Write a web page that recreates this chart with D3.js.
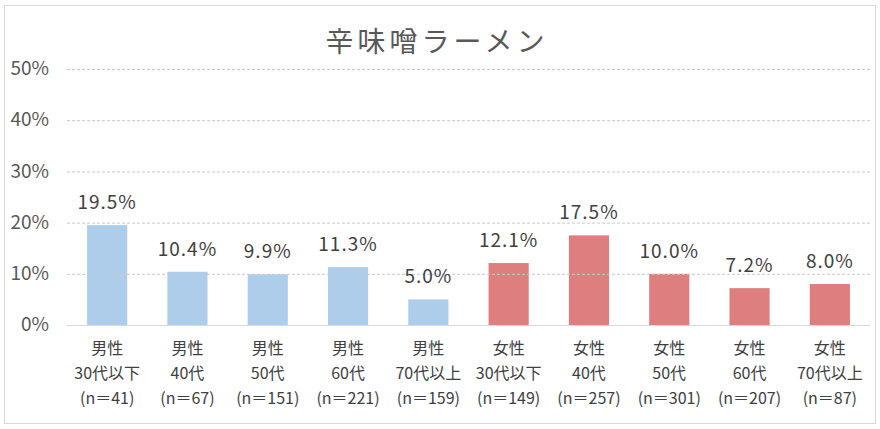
<!DOCTYPE html>
<html lang="ja">
  <head>
    <meta charset="UTF-8" />
    <title>辛味噌ラーメン</title>
    <script src="https://d3js.org/d3.v7.min.js"></script>
    <style>
      body {
        margin: 0;
        padding: 0;
        background: #fff;
        font-family: "Noto Sans CJK JP", sans-serif;
      }
      svg {
        display: block;
      }
      .tick text {
        fill: #595959;
      }
    </style>
  </head>
  <body>
    <svg width="880" height="429"></svg>
    <script>
      const width = 880,
        height = 429;
      const svg = d3.select("svg");

      const genders = ["男性", "男性", "男性", "男性", "男性", "女性", "女性", "女性", "女性", "女性"];
      const ages = ["30代以下", "40代", "50代", "60代", "70代以上", "30代以下", "40代", "50代", "60代", "70代以上"];
      const counts = [41, 67, 151, 221, 159, 149, 257, 301, 207, 87];
      const values = [19.5, 10.4, 9.9, 11.3, 5.0, 12.1, 17.5, 10.0, 7.2, 8.0];
      const yTicks = [0, 10, 20, 30, 40, 50];

      const keys = values.map((d, i) => i);
      const colors = { 男性: "#adcdea", 女性: "#de7e7e" };

      // outer frame
      svg
        .append("rect")
        .attr("x", 4.5)
        .attr("y", 5.5)
        .attr("width", 871)
        .attr("height", 418)
        .attr("fill", "none")
        .attr("stroke", "#d9d9d9");

      svg
        .append("text")
        .attr("x", 437)
        .attr("y", 52)
        .attr("text-anchor", "middle")
        .attr("font-size", 28)
        .attr("letter-spacing", 4)
        .attr("fill", "#595959")
        .text("辛味噌ラーメン");

      const x = d3
        .scaleBand()
        .domain(keys)
        .range([67, 870])
        .paddingInner(0.5)
        .paddingOuter(0.25);
      const y = d3.scaleLinear().domain([0, 50]).range([325, 69]);

      // bars
      svg
        .selectAll("rect.bar")
        .data(values)
        .join("rect")
        .attr("class", "bar")
        .attr("x", (d, i) => x(i))
        .attr("y", (d) => y(d))
        .attr("width", x.bandwidth())
        .attr("height", (d) => y(0) - y(d))
        .attr("fill", (d, i) => colors[genders[i]]);

      // gridlines
      svg
        .selectAll("line.grid")
        .data(yTicks.filter((t) => t > 0))
        .join("line")
        .attr("class", "grid")
        .attr("x1", 67)
        .attr("x2", 870)
        .attr("y1", (d) => y(d) + 0.5)
        .attr("y2", (d) => y(d) + 0.5)
        .attr("stroke", "#c8c8c8")
        .attr("stroke-dasharray", "3,2");

      svg
        .append("line")
        .attr("x1", 67)
        .attr("x2", 870)
        .attr("y1", y(0) + 0.5)
        .attr("y2", y(0) + 0.5)
        .attr("stroke", "#d9d9d9");

      // y axis labels
      const yAxis = d3
        .axisLeft(y)
        .tickValues(yTicks)
        .tickFormat((d) => d + "%")
        .tickSize(0)
        .tickPadding(0);
      const yg = svg.append("g").attr("transform", "translate(49,0)").call(yAxis);
      yg.select(".domain").remove();
      yg.selectAll("text")
        .attr("font-size", 19)
        .attr("dy", "0.3em")
        .attr("font-family", "'Noto Sans CJK JP', sans-serif");

      // value labels
      svg
        .selectAll("text.val")
        .data(values)
        .join("text")
        .attr("class", "val")
        .attr("x", (d, i) => x(i) + x.bandwidth() / 2)
        .attr("y", (d) => y(d) - 16)
        .attr("text-anchor", "middle")
        .attr("font-size", 19)
        .attr("letter-spacing", 1)
        .attr("fill", "#404040")
        .text((d) => d.toFixed(1) + "%");

      // category labels
      const cat = svg
        .selectAll("text.cat")
        .data(keys)
        .join("text")
        .attr("class", "cat")
        .attr("text-anchor", "middle")
        .attr("font-size", 16)
        .attr("fill", "#404040");
      cat
        .append("tspan")
        .attr("x", (i) => x(i) + x.bandwidth() / 2)
        .attr("y", 354)
        .text((i) => genders[i]);
      cat
        .append("tspan")
        .attr("x", (i) => x(i) + x.bandwidth() / 2)
        .attr("y", 379)
        .text((i) => ages[i]);
      cat
        .append("tspan")
        .attr("x", (i) => x(i) + x.bandwidth() / 2)
        .attr("y", 404)
        .text((i) => "(n＝" + counts[i] + ")");
    </script>
  </body>
</html>
